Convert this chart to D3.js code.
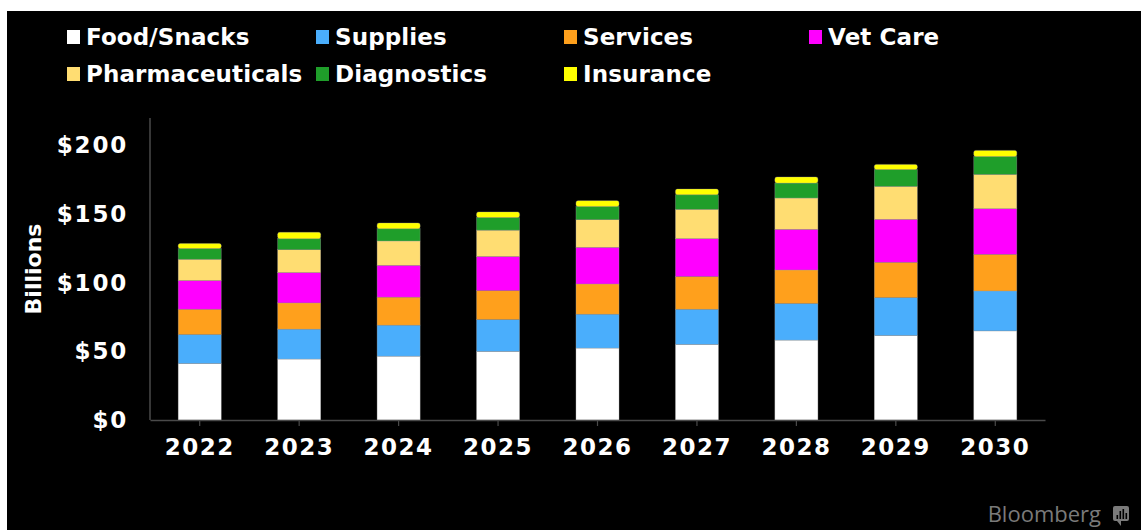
<!DOCTYPE html>
<html>
<head>
<meta charset="utf-8">
<script src="https://cdn.jsdelivr.net/npm/d3@7"></script>
<style>
  html, body { margin: 0; padding: 0; background: #ffffff; }
  svg { display: block; }
  .lbl { font-family: "DejaVu Sans", Verdana, sans-serif; font-weight: bold; fill: #ffffff; }
</style>
</head>
<body>
<svg id="chart" width="1141" height="530"></svg>
<script>
// Pet industry spending by segment, billions of US dollars
const years = ["2022", "2023", "2024", "2025", "2026", "2027", "2028", "2029", "2030"];
const seriesNames = ["Food/Snacks", "Supplies", "Services", "Vet Care", "Pharmaceuticals", "Diagnostics", "Insurance"];
const seriesColors = ["#ffffff", "#4aaefc", "#ffa01c", "#ff00ff", "#ffdd72", "#1f9e2a", "#ffff00"];

const foodSnacks      = [41.2, 44.4, 46.5, 50.0, 52.4, 55.1, 58.2, 61.6, 64.9];
const supplies        = [21.1, 21.8, 22.6, 23.2, 24.7, 25.6, 26.7, 27.6, 29.1];
const services        = [18.4, 19.1, 20.4, 21.1, 22.0, 23.8, 24.4, 25.7, 26.7];
const vetCare         = [20.9, 22.1, 23.2, 24.8, 26.7, 27.6, 29.6, 31.3, 33.2];
const pharmaceuticals = [15.5, 16.7, 17.7, 19.2, 20.2, 21.4, 22.8, 24.0, 25.0];
const diagnostics     = [7.8, 8.0, 9.0, 9.2, 9.6, 10.6, 10.9, 12.3, 13.1];
const insurance       = [3.6, 4.6, 4.1, 4.1, 4.2, 4.1, 4.4, 3.7, 4.4];

const yTickValues = [0, 50, 100, 150, 200];

const seriesValues = [foodSnacks, supplies, services, vetCare, pharmaceuticals, diagnostics, insurance];

// Table of rows for the stack layout
const rows = years.map((yr, i) => {
  const r = { year: yr };
  seriesNames.forEach((name, k) => { r[name] = seriesValues[k][i]; });
  return r;
});

const svg = d3.select("#chart");

// Dark panel
svg.append("rect")
  .attr("x", 7).attr("y", 11)
  .attr("width", 1134).attr("height", 519)
  .attr("fill", "#000000");

const plot = { left: 150, right: 1045, top: 118, bottom: 420 };

const x = d3.scaleBand()
  .domain(years)
  .range([plot.left, plot.right])
  .paddingInner(0.567)
  .paddingOuter(0.2835);

const y = d3.scaleLinear()
  .domain([0, 220])
  .range([plot.bottom, plot.top]);

const stack = d3.stack().keys(seriesNames);
const layers = stack(rows);

// Stacked bars
const g = svg.append("g");
layers.forEach((layer, k) => {
  g.append("g")
    .attr("fill", seriesColors[k])
    .selectAll("rect")
    .data(layer)
    .join("rect")
      .attr("x", d => x(d.data.year))
      .attr("width", x.bandwidth())
      .attr("y", d => y(d[1]))
      .attr("height", d => y(d[0]) - y(d[1]))
      .attr("rx", k === layers.length - 1 ? 2 : 0)
      .attr("stroke", "rgba(160,160,160,0.55)")
      .attr("stroke-width", 0.6);
});

// Y axis
const yAxis = d3.axisLeft(y)
  .tickValues(yTickValues)
  .tickSize(0)
  .tickPadding(22)
  .tickFormat(d => "$" + d);

const yg = svg.append("g")
  .attr("transform", `translate(${plot.left},0)`)
  .call(yAxis);
yg.select(".domain").attr("stroke", "#4a4a4a").attr("stroke-width", 1.5)
  .attr("d", `M0,${plot.top}V${plot.bottom}`);
yg.selectAll("text")
  .attr("class", "lbl")
  .attr("font-size", 23)
  .style("letter-spacing", "1.8px")
  .attr("fill", "#ffffff");

// X axis
const xAxis = d3.axisBottom(x)
  .tickSizeInner(6)
  .tickSizeOuter(0)
  .tickPadding(13);

const xg = svg.append("g")
  .attr("transform", `translate(0,${plot.bottom})`)
  .call(xAxis);
xg.select(".domain").attr("stroke", "#4a4a4a").attr("stroke-width", 1.5);
xg.selectAll(".tick line").attr("stroke", "#4a4a4a").attr("stroke-width", 1.2);
xg.selectAll("text")
  .attr("class", "lbl")
  .attr("font-size", 23)
  .style("letter-spacing", "1.5px")
  .attr("fill", "#ffffff");

// Axis title
svg.append("text")
  .attr("class", "lbl")
  .attr("font-size", 22)
  .attr("text-anchor", "middle")
  .attr("transform", "translate(41,269) rotate(-90)")
  .text("Billions");

// Legend
const legendCols = [67, 316, 564, 809];
const legendRows = [37, 74];
const legendPos = [[0,0],[1,0],[2,0],[3,0],[0,1],[1,1],[2,1]];
const legend = svg.append("g");
seriesNames.forEach((name, k) => {
  const [c, r] = legendPos[k];
  const item = legend.append("g")
    .attr("transform", `translate(${legendCols[c]},${legendRows[r]})`);
  item.append("rect")
    .attr("x", 0).attr("y", -7)
    .attr("width", 13).attr("height", 14)
    .attr("fill", seriesColors[k]);
  item.append("text")
    .attr("class", "lbl")
    .attr("x", 19).attr("y", 0)
    .attr("dy", "0.36em")
    .attr("font-size", 23)
    .style("letter-spacing", "0.1px")
    .text(name);
});

// Source mark
const brand = svg.append("g").attr("transform", "translate(0,514)");
brand.append("text")
  .attr("x", 1101).attr("y", 0)
  .attr("dy", "0.35em")
  .attr("text-anchor", "end")
  .attr("font-family", "'Open Sans', Inter, sans-serif")
  .attr("font-size", 22)
  .attr("fill", "#7a7a7a")
  .text("Bloomberg");
brand.append("rect")
  .attr("x", 1113).attr("y", -8)
  .attr("width", 16).attr("height", 15)
  .attr("rx", 2)
  .attr("fill", "#7a7a7a");
brand.append("path")
  .attr("d", "M1117,7 L1121,7 L1121,12 Z")
  .attr("fill", "#7a7a7a");
[[1116.5, 1], [1119.5, -3], [1122.5, -5], [1125.5, -1]].forEach(([bx, by]) => {
  brand.append("rect")
    .attr("x", bx).attr("y", by)
    .attr("width", 1.6).attr("height", 5 - by)
    .attr("fill", "#000000");
});
</script>
</body>
</html>
